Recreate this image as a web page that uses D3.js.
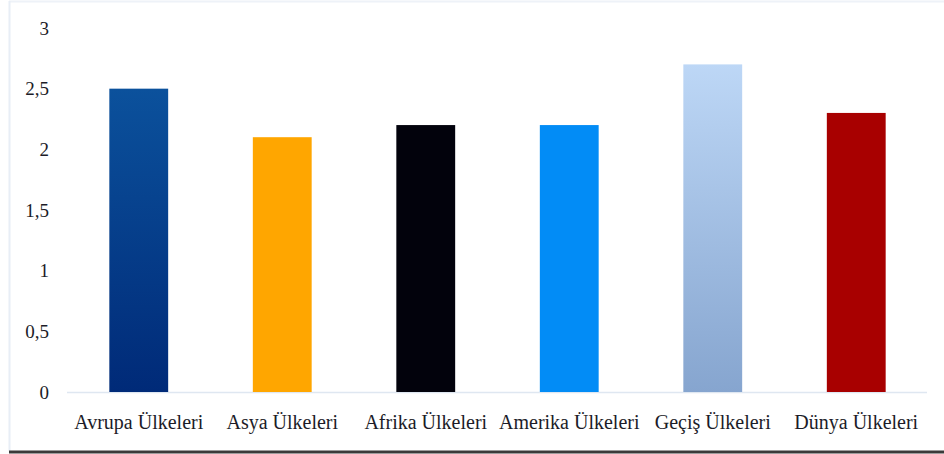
<!DOCTYPE html>
<html>
<head>
<meta charset="utf-8">
<script src="https://cdn.jsdelivr.net/npm/d3@7"></script>
<style>
  html, body { margin: 0; padding: 0; background: #fff; }
  svg { display: block; }
</style>
</head>
<body>
<svg id="chart" width="944" height="454"></svg>
<script>
// chart data
const categories = ["Avrupa Ülkeleri", "Asya Ülkeleri", "Afrika Ülkeleri", "Amerika Ülkeleri", "Geçiş Ülkeleri", "Dünya Ülkeleri"];
const values = [2.5, 2.1, 2.2, 2.2, 2.7, 2.3];
const yTicks = [0, 0.5, 1, 1.5, 2, 2.5, 3];
const tickLabels = ["0", "0,5", "1", "1,5", "2", "2,5", "3"];

// bar fills: [top, bottom]
const fills = [
    ["#0b519c", "#002a78"],
    ["#ffa600", "#ffa600"],
    ["#02020c", "#02020c"],
    ["#028cf6", "#028cf6"],
    ["#bdd7f6", "#86a5cf"],
    ["#a80000", "#a80000"]
];

const svg = d3.select("#chart");
const W = 944, H = 454;
const margin = { top: 28, right: 16, bottom: 62, left: 67 };

// frame
svg.append("rect").attr("x", 0).attr("y", 0).attr("width", W).attr("height", H).attr("fill", "#fff");
svg.append("line").attr("x1", 9).attr("x2", W).attr("y1", 1.5).attr("y2", 1.5)
    .attr("stroke", "#eef2f8").attr("stroke-width", 2);
svg.append("line").attr("x1", 9.5).attr("x2", 9.5).attr("y1", 1).attr("y2", 451)
    .attr("stroke", "#e8eef6").attr("stroke-width", 2);
svg.append("line").attr("x1", 9).attr("x2", W).attr("y1", 452).attr("y2", 452)
    .attr("stroke", "#3a3a3a").attr("stroke-width", 3);

const x = d3.scaleBand()
    .domain(categories)
    .range([margin.left, W - margin.right])
    .paddingInner(0.59)
    .paddingOuter(0.295);

const y = d3.scaleLinear()
    .domain([0, 3])
    .range([392, margin.top]);

// gradients
const defs = svg.append("defs");
fills.forEach((f, i) => {
    const g = defs.append("linearGradient")
        .attr("id", "grad" + i)
        .attr("x1", 0).attr("y1", 0).attr("x2", 0).attr("y2", 1);
    g.append("stop").attr("offset", "0%").attr("stop-color", f[0]);
    g.append("stop").attr("offset", "100%").attr("stop-color", f[1]);
});

// baseline
svg.append("line")
    .attr("x1", margin.left).attr("x2", W - 17)
    .attr("y1", y(0) + 0.5).attr("y2", y(0) + 0.5)
    .attr("stroke", "#dfe7f1").attr("stroke-width", 1.5);

// bars
svg.selectAll(".bar")
    .data(values)
    .join("rect")
    .attr("class", "bar")
    .attr("x", (d, i) => x(categories[i]))
    .attr("y", d => y(d))
    .attr("width", x.bandwidth())
    .attr("height", d => y(0) - y(d))
    .attr("fill", (d, i) => `url(#grad${i})`);

// y axis
const yAxis = svg.append("g")
    .attr("transform", "translate(49,0)")
    .call(d3.axisLeft(y).tickValues(yTicks).tickFormat((d, i) => tickLabels[i]).tickSize(0).tickPadding(0));
yAxis.select(".domain").remove();
yAxis.selectAll("text")
    .attr("fill", "#1c1c28")
    .style("font-family", "'Liberation Serif', 'Times New Roman', serif")
    .style("font-size", "19px");

// x axis
const xAxis = svg.append("g")
    .attr("transform", `translate(0,${y(0)})`)
    .call(d3.axisBottom(x).tickSize(0).tickPadding(23));
xAxis.select(".domain").remove();
xAxis.selectAll("text")
    .attr("fill", "#1c1c28")
    .style("font-family", "'Liberation Serif', 'Times New Roman', serif")
    .style("font-size", "20px");
</script>
</body>
</html>
